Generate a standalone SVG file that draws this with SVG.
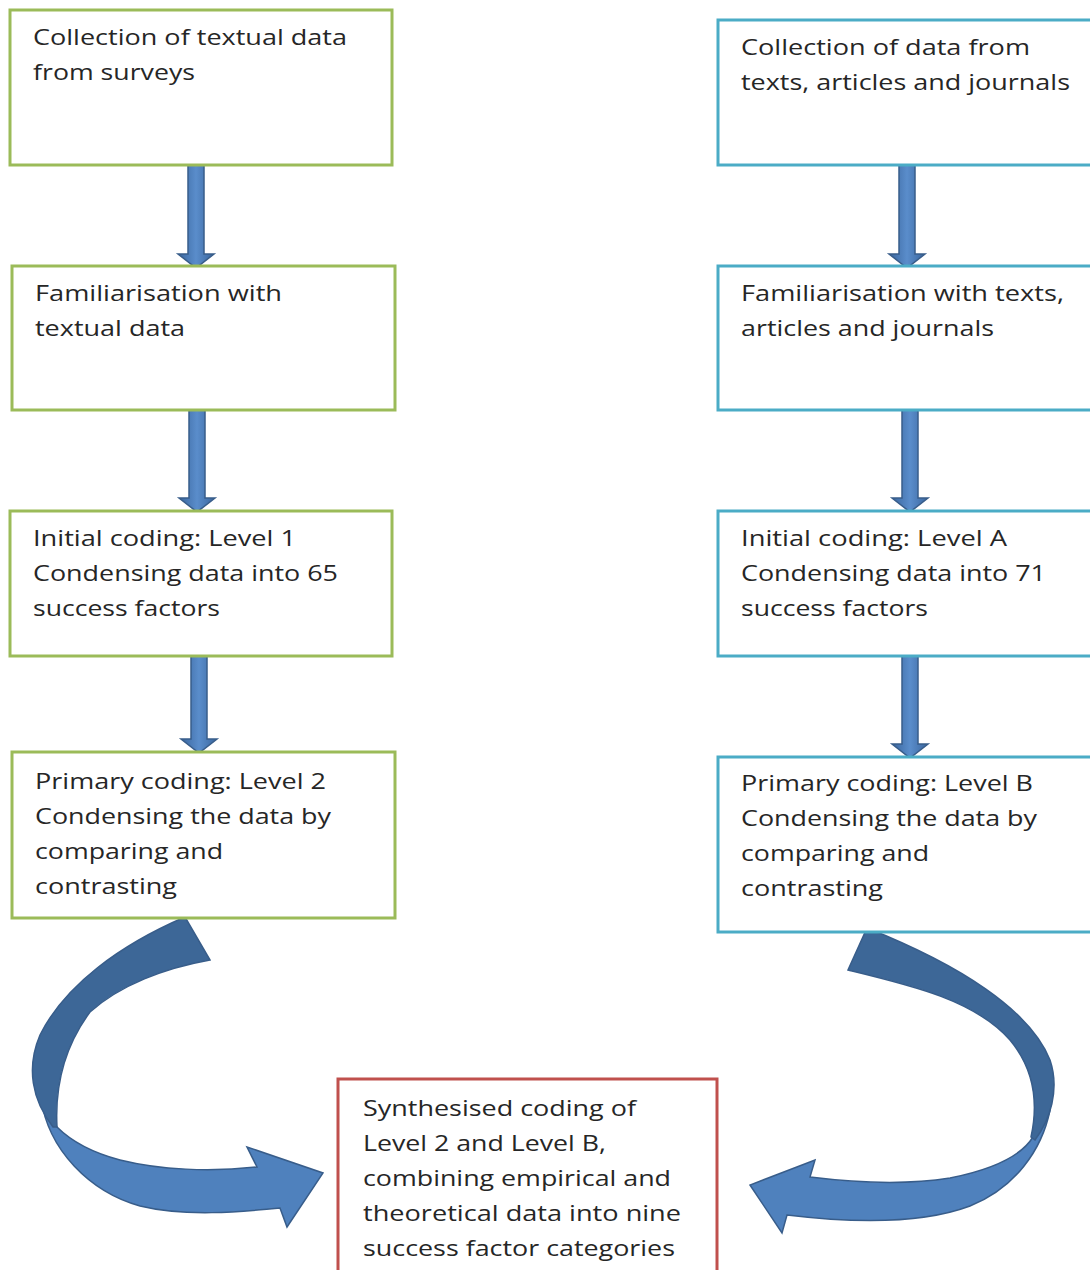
<svg xmlns="http://www.w3.org/2000/svg" width="1090" height="1270" viewBox="0 0 1090 1270">
<style>
.g{fill:#fff;stroke:#9BBB59;stroke-width:3}
.b{fill:#fff;stroke:#4BACC6;stroke-width:3}
.r{fill:#fff;stroke:#C0504D;stroke-width:3}
text{font-family:"Open Sans","Liberation Sans",sans-serif;font-size:21px;fill:#262626}
.arr{fill:url(#sg);stroke:#385D8A;stroke-width:1.5}
.dk{fill:#3D6797;stroke:#385D8A;stroke-width:1.5}
.lt{fill:#4F81BD;stroke:#385D8A;stroke-width:1.5}
</style>
<defs>
<linearGradient id="sg" x1="0" y1="0" x2="1" y2="0">
<stop offset="0" stop-color="#3A669E"/>
<stop offset="0.5" stop-color="#5A8DCB"/>
<stop offset="1" stop-color="#3A669E"/>
</linearGradient>
</defs>
<rect width="1090" height="1270" fill="#fff"/>

<g id="connectors">
<path class="arr" d="M188 162 H204 V254 H214 L196 268 L178 254 H188 Z"/>
<path class="arr" d="M189 407 H205 V498 H215 L197 512 L179 498 H189 Z"/>
<path class="arr" d="M191 656 H207 V739 H217 L199 753 L181 739 H191 Z"/>
<path class="arr" d="M899 162 H915 V254 H925 L907 268 L889 254 H899 Z"/>
<path class="arr" d="M902 407 H918 V498 H928 L910 512 L892 498 H902 Z"/>
<path class="arr" d="M902 656 H918 V744 H928 L910 758 L892 744 H902 Z"/>
<g id="curve-left">
<path class="lt" d="M41 1098 C48 1150 90 1192 140 1206 C185 1217 240 1212 280 1208 L287 1227 L323 1173 L247 1147 L257 1167 C210 1172 160 1170 120 1160 C90 1152 70 1140 57 1127 Z"/>
<path class="dk" d="M185 917 C120 945 65 985 40 1035 C26 1068 32 1100 53 1127 L57 1127 C55 1090 62 1050 90 1012 C120 985 165 968 210 960 Z"/>
</g>
<g id="curve-right">
<path class="lt" d="M1050 1110 C1042 1150 1015 1188 970 1206 C930 1221 870 1225 787 1215 L782 1233 L750 1185 L815 1160 L810 1177 C850 1182 900 1186 950 1178 C990 1170 1020 1158 1033 1137 Z"/>
<path class="dk" d="M867 928 C960 965 1030 1010 1050 1060 C1060 1090 1050 1120 1035 1140 L1031 1137 C1038 1105 1035 1070 1010 1040 C975 1000 910 985 848 970 Z"/>
</g>
</g>

<g id="n-l1"><rect class="g" x="10" y="10" width="382" height="155"/>
<text x="33" y="45" textLength="314" lengthAdjust="spacingAndGlyphs">Collection of textual data</text>
<text x="33" y="80" textLength="162" lengthAdjust="spacingAndGlyphs">from surveys</text></g>
<g id="n-l2"><rect class="g" x="12" y="266" width="383" height="144"/>
<text x="35" y="301" textLength="247" lengthAdjust="spacingAndGlyphs">Familiarisation with</text>
<text x="35" y="336" textLength="150" lengthAdjust="spacingAndGlyphs">textual data</text></g>
<g id="n-l3"><rect class="g" x="10" y="511" width="382" height="145"/>
<text x="33" y="546" textLength="263" lengthAdjust="spacingAndGlyphs">Initial coding: Level 1</text>
<text x="33" y="581" textLength="305" lengthAdjust="spacingAndGlyphs">Condensing data into 65</text>
<text x="33" y="616" textLength="187" lengthAdjust="spacingAndGlyphs">success factors</text></g>
<g id="n-l4"><rect class="g" x="12" y="752" width="383" height="166"/>
<text x="35" y="789" textLength="291" lengthAdjust="spacingAndGlyphs">Primary coding: Level 2</text>
<text x="35" y="824" textLength="296" lengthAdjust="spacingAndGlyphs">Condensing the data by</text>
<text x="35" y="859" textLength="188" lengthAdjust="spacingAndGlyphs">comparing and</text>
<text x="35" y="894" textLength="142" lengthAdjust="spacingAndGlyphs">contrasting</text></g>

<g id="n-r1"><rect class="b" x="718" y="20" width="390" height="145"/>
<text x="741" y="55" textLength="289" lengthAdjust="spacingAndGlyphs">Collection of data from</text>
<text x="741" y="90" textLength="329" lengthAdjust="spacingAndGlyphs">texts, articles and journals</text></g>
<g id="n-r2"><rect class="b" x="718" y="266" width="390" height="144"/>
<text x="741" y="301" textLength="323" lengthAdjust="spacingAndGlyphs">Familiarisation with texts,</text>
<text x="741" y="336" textLength="253" lengthAdjust="spacingAndGlyphs">articles and journals</text></g>
<g id="n-r3"><rect class="b" x="718" y="511" width="390" height="145"/>
<text x="741" y="546" textLength="266" lengthAdjust="spacingAndGlyphs">Initial coding: Level A</text>
<text x="741" y="581" textLength="305" lengthAdjust="spacingAndGlyphs">Condensing data into 71</text>
<text x="741" y="616" textLength="187" lengthAdjust="spacingAndGlyphs">success factors</text></g>
<g id="n-r4"><rect class="b" x="718" y="757" width="390" height="175"/>
<text x="741" y="791" textLength="292" lengthAdjust="spacingAndGlyphs">Primary coding: Level B</text>
<text x="741" y="826" textLength="296" lengthAdjust="spacingAndGlyphs">Condensing the data by</text>
<text x="741" y="861" textLength="188" lengthAdjust="spacingAndGlyphs">comparing and</text>
<text x="741" y="896" textLength="142" lengthAdjust="spacingAndGlyphs">contrasting</text></g>

<g id="n-bottom"><rect class="r" x="338" y="1079" width="379" height="210"/>
<text x="363" y="1116" textLength="273" lengthAdjust="spacingAndGlyphs">Synthesised coding of</text>
<text x="363" y="1151" textLength="243" lengthAdjust="spacingAndGlyphs">Level 2 and Level B,</text>
<text x="363" y="1186" textLength="308" lengthAdjust="spacingAndGlyphs">combining empirical and</text>
<text x="363" y="1221" textLength="318" lengthAdjust="spacingAndGlyphs">theoretical data into nine</text>
<text x="363" y="1256" textLength="312" lengthAdjust="spacingAndGlyphs">success factor categories</text></g>
</svg>
